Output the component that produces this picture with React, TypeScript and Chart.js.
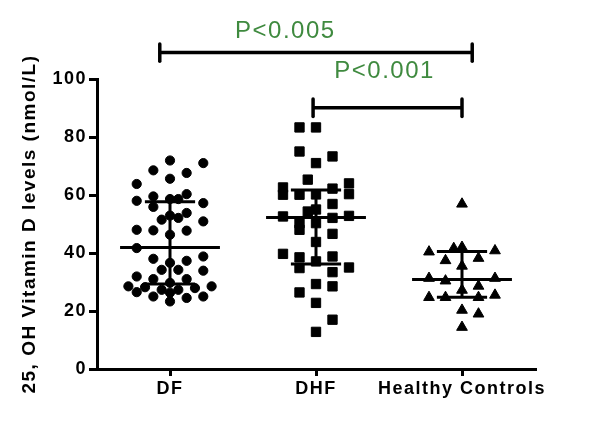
import React, { useEffect, useRef } from "react";
import { Chart, registerables } from "chart.js";

Chart.register(...registerables);

// ---- data ----
const categories = ["DF", "DHF", "Healthy Controls"];
const yTicks = [0, 20, 40, 60, 80, 100];
const yTitle = "25, OH Vitamin D levels (nmol/L)";

const dfValues = [71.9, 71.0, 68.5, 67.6, 65.6, 63.8, 58.0, 59.5, 55.9, 58.6, 58.6, 60.3, 57.2, 53.8, 51.5, 52.9, 52.1, 50.9, 48.0, 47.8, 47.7, 46.3, 41.7, 38.0, 36.6, 37.3, 38.8, 34.2, 34.2, 33.9, 31.9, 31.0, 31.0, 29.7, 28.5, 28.2, 27.3, 27.3, 27.9, 28.5, 26.5, 25.0, 26.3, 24.5, 25.0, 23.3];
const dfJitter = [0, 4, -2, 2, 0, -4, -4, -2, -2, 0, 1, 2, 4, 2, -1, 0, 1, 4, -4, -2, 2, 0, -4, -2, 0, 2, 4, -1, 1, 4, -4, -2, 2, 0, -5, -3, -1, 1, 3, 5, -4, -2, 0, 2, 4, 0];

const dhfValues = [83.3, 83.3, 75.0, 71.0, 73.3, 65.3, 62.6, 60.1, 60.1, 60.2, 62.2, 64.0, 60.3, 56.9, 55.0, 54.3, 52.6, 50.3, 50.3, 52.1, 52.8, 48.0, 46.6, 43.8, 39.7, 38.5, 38.8, 37.1, 34.8, 33.4, 35.0, 29.3, 28.5, 26.4, 22.8, 17.0, 12.8];
const dhfJitter = [-1, 0, -1, 0, 1, -0.5, -2, -2, -1, 0, 1, 2, 2, 1, 0, -0.5, -2, -1, 0, 1, 2, -1, 1, 0, -2, -1, 1, 0, -1, 1, 2, 0, 1, -1, 0, 1, 0];

const hcValues = [56.9, 40.4, 41.6, 42.0, 40.8, 37.4, 38.2, 35.5, 31.3, 30.4, 31.3, 28.6, 27.2, 24.7, 24.7, 24.7, 25.5, 20.3, 19.0, 14.4];
const hcJitter = [0, -2, -0.5, 0, 2, -1, 1, 0, -2, -1, 2, 1, 0, -2, -1, 1, 2, 0, 1, 0];

const meanValues = [41.9, 52.2, 30.9];
const sdUpper = [57.7, 61.7, 40.5];
const sdLower = [29.3, 36.2, 24.7];

const sigLabels = ["P<0.005", "P<0.001"];
const sigFrom = [-0.07, 0.98];
const sigTo = [2.07, 2.0];
const sigLevel = [109.1, 90.1];
const sigLabelX = [0.79, 1.47];
const sigLabelY = [116.4, 102.5];

// ---- presentation ----
const jitterStep = [0.057, 0.113, 0.113];
const meanHalf = 0.342;
const sdHalf = 0.172;
const capHalf = 3;
const FONT = "'Liberation Sans', Arial, Helvetica, sans-serif";

export default function App() {
  const ref = useRef<HTMLCanvasElement | null>(null);

  useEffect(() => {
    if (!ref.current) return;
    const groups = [
      { values: dfValues, jitter: dfJitter, style: "circle", radius: 4.6 },
      { values: dhfValues, jitter: dhfJitter, style: "rect", radius: 6.6 },
      { values: hcValues, jitter: hcJitter, style: "triangle", radius: 6.2 },
    ];
    const datasets: any[] = [];
    groups.forEach((g, gi) => {
      datasets.push({
        type: "scatter",
        data: g.values.map((v, i) => ({ x: gi + g.jitter[i] * jitterStep[gi], y: v })),
        pointStyle: g.style,
        pointRadius: g.radius,
        backgroundColor: "#000",
        borderColor: "#000",
        borderWidth: 1,
        order: 2,
      });
    });
    const seg = (x1: number, y1: number, x2: number, y2: number, w: number, cap = "butt", clip: any = undefined) => ({
      type: "line",
      data: [{ x: x1, y: y1 }, { x: x2, y: y2 }],
      borderColor: "#000",
      borderWidth: w,
      borderCapStyle: cap,
      pointRadius: 0,
      fill: false,
      tension: 0,
      clip: clip === undefined ? undefined : clip,
      order: 1,
    });
    meanValues.forEach((m, gi) => {
      datasets.push(seg(gi - meanHalf, m, gi + meanHalf, m, 3));
      datasets.push(seg(gi - sdHalf, sdUpper[gi], gi + sdHalf, sdUpper[gi], 3));
      datasets.push(seg(gi - sdHalf, sdLower[gi], gi + sdHalf, sdLower[gi], 3));
      datasets.push(seg(gi, sdLower[gi], gi, sdUpper[gi], 3));
    });
    sigLevel.forEach((lv, i) => {
      datasets.push(seg(sigFrom[i], lv, sigTo[i], lv, 3.5, "butt", false));
      datasets.push(seg(sigFrom[i], lv - capHalf, sigFrom[i], lv + capHalf, 3.5, "round", false));
      datasets.push(seg(sigTo[i], lv - capHalf, sigTo[i], lv + capHalf, 3.5, "round", false));
    });

    const spacing = {
      id: "spacing",
      beforeLayout(chart: any) { chart.ctx.letterSpacing = "1.5px"; },
      beforeDraw(chart: any) { chart.ctx.letterSpacing = "1.5px"; },
    };
    const sigText = {
      id: "sigText",
      afterDatasetsDraw(chart: any) {
        const ctx = chart.ctx;
        const xs = chart.scales.x, ys = chart.scales.y;
        ctx.save();
        ctx.letterSpacing = "1.5px";
        ctx.fillStyle = "#3f8a3f";
        ctx.font = `24px ${FONT}`;
        ctx.textAlign = "center";
        ctx.textBaseline = "middle";
        sigLabels.forEach((t, i) => {
          ctx.fillText(t, xs.getPixelForValue(sigLabelX[i]), ys.getPixelForValue(sigLabelY[i]));
        });
        ctx.restore();
      },
    };

    const tickFont = { family: FONT, size: 18, weight: "bold" as const };
    const chart = new Chart(ref.current, {
      type: "scatter",
      data: { datasets },
      plugins: [spacing, sigText],
      options: {
        animation: false,
        responsive: true,
        maintainAspectRatio: false,
        events: [],
        layout: { padding: { top: 71, right: 57, left: 0, bottom: 0 } },
        plugins: { legend: { display: false }, tooltip: { enabled: false } },
        scales: {
          x: {
            type: "linear",
            min: -0.5,
            max: 2.5,
            afterBuildTicks: (s: any) => { s.ticks = categories.map((_, i) => ({ value: i })); },
            afterFit: (s: any) => { s.height = 45; },
            ticks: {
              callback: (v: any) => categories[v as number] ?? "",
              font: tickFont,
              color: "#000",
              padding: 2,
              maxRotation: 0,
              autoSkip: false,
            },
            grid: { display: true, drawOnChartArea: false, drawTicks: true, tickLength: 7, color: "#000", lineWidth: 3 },
            border: { display: true, color: "#000", width: 3 },
          },
          y: {
            type: "linear",
            min: 0,
            max: 100,
            afterBuildTicks: (s: any) => { s.ticks = yTicks.map((v) => ({ value: v })); },
            afterFit: (s: any) => { s.width = 89; },
            ticks: { font: tickFont, color: "#000", padding: 2 },
            grid: { display: true, drawOnChartArea: false, drawTicks: true, tickLength: 8, color: "#000", lineWidth: 3 },
            border: { display: true, color: "#000", width: 3 },
            title: {
              display: true,
              text: yTitle,
              color: "#000",
              font: { family: FONT, size: 19, weight: "bold" },
              padding: { top: 10, bottom: 0 },
            },
          },
        },
      } as any,
    });
    return () => chart.destroy();
  }, []);

  return (
    <div style={{ width: 584, height: 406, position: "relative" }}>
      <canvas ref={ref} />
    </div>
  );
}
